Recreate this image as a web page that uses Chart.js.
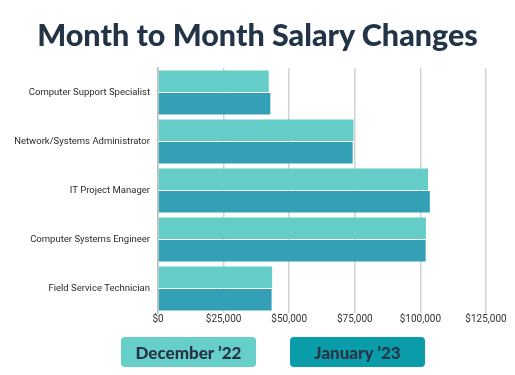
<!DOCTYPE html>
<html>
<head>
<meta charset="utf-8">
<script src="https://cdn.jsdelivr.net/npm/chart.js@4"></script>
<style>
  body { margin: 0; background: #fff; }
  #wrap { position: relative; width: 515px; height: 375px; }
  #title {
    position: absolute; left: 0; top: 16px; width: 515px; text-align: center;
    color: #233446; font: 900 30.5px 'Lato', sans-serif; line-height: 36px;
  }
  #legend { position: absolute; left: 0; top: 337px; width: 515px; height: 30px; }
  .key {
    position: absolute; top: 0; height: 30px; width: 135px;
    border-radius: 4px; color: #263445;
    font: 900 17px 'Lato', sans-serif;
    display: flex; align-items: center; justify-content: center;
  }
</style>
</head>
<body>
<div id="wrap">
  <canvas id="salaryChart" width="515" height="375"></canvas>
  <div id="title">Month to Month Salary Changes</div>
  <div id="legend"></div>
</div>
<script>
// Month to Month Salary Changes

const jobTitles = ['Computer Support Specialist', 'Network/Systems Administrator', 'IT Project Manager', 'Computer Systems Engineer', 'Field Service Technician'];
const december22 = [42200, 74500, 102900, 102100, 43500];
const january23 = [42800, 74200, 103600, 102000, 43300];
const seriesNames = ['December \u201922', 'January \u201923'];
const xTicks = [0, 25000, 50000, 75000, 100000, 125000];

const barColors = ['#65cdc8', '#34a0b5'];
const keyColors = ['#66cfc9', '#0a9ca8'];

document.addEventListener('DOMContentLoaded', () => {
    drawChart();
    drawLegend();
});

function drawChart() {
    const ctx = document.getElementById('salaryChart').getContext('2d');

    new Chart(ctx, {
        type: 'bar',
        data: {
            labels: jobTitles,
            datasets: [
                { label: seriesNames[0], data: december22, backgroundColor: barColors[0] },
                { label: seriesNames[1], data: january23, backgroundColor: barColors[1] }
            ]
        },
        options: {
            indexAxis: 'y',
            responsive: false,
            animation: false,
            categoryPercentage: 0.92,
            barPercentage: 0.95,
            layout: { padding: { top: 68, left: 0, right: 29, bottom: 50 } },
            plugins: {
                legend: { display: false },
                tooltip: { enabled: false }
            },
            scales: {
                x: {
                    min: xTicks[0],
                    max: xTicks[xTicks.length - 1],
                    afterBuildTicks: (scale) => { scale.ticks = xTicks.map(v => ({ value: v })); },
                    grid: { color: '#d2d2d2', lineWidth: 1.5, drawTicks: false },
                    border: { display: false },
                    ticks: {
                        color: '#333',
                        padding: 0,
                        font: { family: 'Roboto', size: 10 },
                        callback: (v) => '$' + Number(v).toLocaleString('en-US')
                    }
                },
                y: {
                    afterFit: (scale) => { scale.width = 158; },
                    grid: { display: false, drawTicks: false },
                    border: { display: true, color: '#bdbdbd', width: 1.5 },
                    ticks: {
                        color: '#2b2b2b',
                        padding: 8,
                        font: { family: 'Roboto', size: 9.5 }
                    }
                }
            }
        }
    });
}

// keys sit under the plot as filled boxes with the name inside
function drawLegend() {
    const legend = document.getElementById('legend');
    const lefts = [121, 290];
    seriesNames.forEach((name, i) => {
        const key = document.createElement('div');
        key.className = 'key';
        key.style.left = lefts[i] + 'px';
        key.style.background = keyColors[i];
        key.textContent = name;
        legend.appendChild(key);
    });
}
</script>
</body>
</html>
